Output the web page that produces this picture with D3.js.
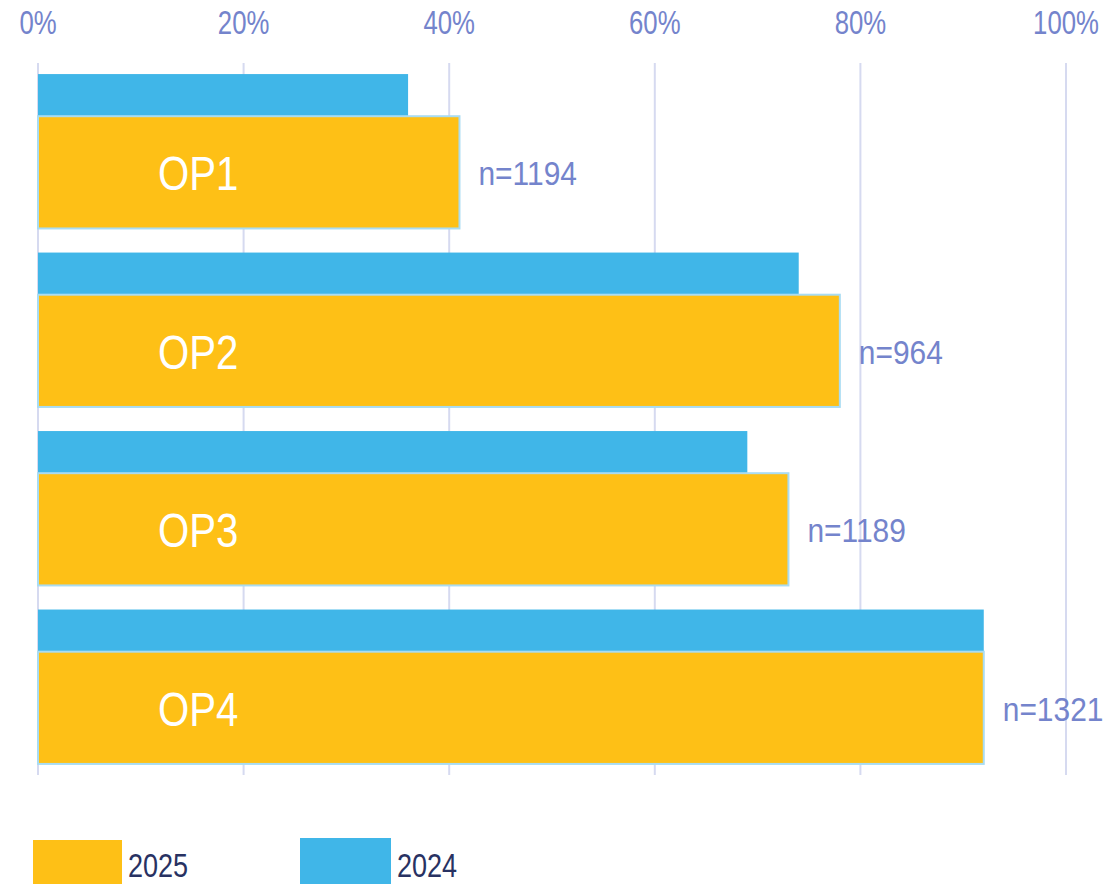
<!DOCTYPE html>
<html><head><meta charset="utf-8">
<script src="https://cdn.jsdelivr.net/npm/d3@7"></script>
<style>body{margin:0;background:#fff}svg{display:block}</style>
</head><body>
<svg id="c" width="1117" height="884"></svg>
<script>
const categories = ["OP1","OP2","OP3","OP4"];
const values2025 = [41, 78, 73, 92];
const values2024 = [36, 74, 69, 92];
const nLabels = ["n=1194","n=964","n=1189","n=1321"];
const tickValues = [0,20,40,60,80,100];
const seriesNames = ["2025","2024"];

const FONT = "'Liberation Sans',Arial,sans-serif";
const C2025 = "#fec016", C2024 = "#40b6e8";
const svg = d3.select("#c");
const x = d3.scaleLinear().domain([0,100]).range([38,1066]);
const y = d3.scaleBand().domain(categories).range([63,775]).paddingInner(0.135).paddingOuter(0.062);
const blueFrac = 0.273;

function label(parent, px, py, txt, size, fill, anchor, sx){
  parent.append("text")
    .attr("transform",`translate(${px},${py}) scale(${sx||0.8},1)`)
    .attr("text-anchor",anchor||"start")
    .attr("font-family",FONT).attr("font-size",size).attr("fill",fill).text(txt);
}

// grid
svg.append("g").selectAll("line").data(tickValues).join("line")
  .attr("x1",d=>x(d)).attr("x2",d=>x(d)).attr("y1",63).attr("y2",775)
  .attr("stroke","#d6daf0").attr("stroke-width",2);

// top axis labels
const ax = svg.append("g");
tickValues.forEach(d=>label(ax, x(d), 34, d+"%", 33, "#7484cc", "middle", 0.78));

const g = svg.append("g");
categories.forEach((c,i)=>{
  const y0 = y(c), bw = y.bandwidth(), bh = bw*blueFrac;
  g.append("rect").attr("x",x(0)).attr("y",y0).attr("width",x(values2024[i])-x(0)).attr("height",bh)
    .attr("fill",C2024);
  g.append("rect").attr("x",x(0)).attr("y",y0+bh).attr("width",x(values2025[i])-x(0)).attr("height",bw-bh)
    .attr("fill",C2025).attr("stroke","#a9dcf2").attr("stroke-width",2);
  const cy = y0+bh+(bw-bh)/2;
  label(g, x(0)+120, cy+18, c, 49, "#fff", "start", 0.82);
  label(g, x(values2025[i])+19, cy+13, nLabels[i], 34, "#7484cc", "start", 0.88);
});

// legend
const leg = [{name:seriesNames[0],color:C2025,x:33,y:840,w:89},{name:seriesNames[1],color:C2024,x:300,y:838,w:91}];
leg.forEach(l=>{
  svg.append("rect").attr("x",l.x).attr("y",l.y).attr("width",l.w).attr("height",884-l.y).attr("fill",l.color);
  label(svg, l.x+l.w+6, 877, l.name, 33, "#283262", "start", 0.82);
});
</script>
</body></html>
